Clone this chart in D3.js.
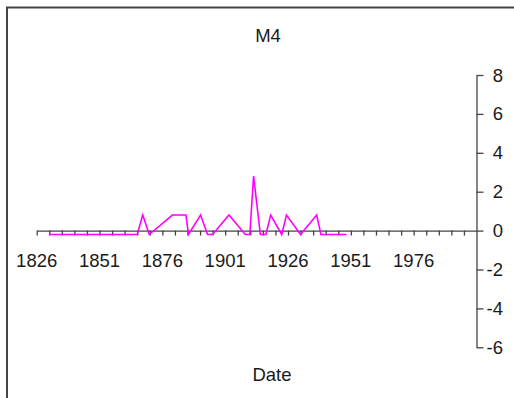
<!DOCTYPE html>
<html><head><meta charset="utf-8">
<script src="https://cdn.jsdelivr.net/npm/d3@7"></script>
<style>body{margin:0;background:#fff;} text{font-family:"Liberation Sans",Arial,sans-serif;}</style>
</head><body>
<script>
const years = [1831,1866,1868.2,1870.8,1880,1885.4,1886.4,1891.2,1894,1896,1902.5,1909,1910.8,1912.3,1915,1917.2,1919.1,1923.5,1925.4,1931,1937.4,1939.1,1949.3];
const values = [-0.2,-0.2,0.8,-0.2,0.8,0.8,-0.2,0.8,-0.2,-0.2,0.8,-0.2,-0.2,2.8,-0.2,-0.2,0.8,-0.2,0.8,-0.2,0.8,-0.2,-0.2];
const xTickLabels = [1826,1851,1876,1901,1926,1951,1976];
const yTicks = [-6,-4,-2,0,2,4,6,8];
const title = "M4", xTitle = "Date";

const W=514,H=398;
const svg=d3.select("body").append("svg").attr("width",W).attr("height",H);
svg.append("rect").attr("x",7).attr("y",7.5).attr("width",W).attr("height",H).attr("fill","none").attr("stroke","#444").attr("stroke-width",2);

const x=d3.scaleLinear().domain([1826,2001]).range([36.7,476.5]);
const y=d3.scaleLinear().domain([-6,8]).range([347.3,75]);
const axisCol="#444";
const fs=18.5;

// x axis
const xMinor=d3.range(1826,2001,5);
const gx=svg.append("g").attr("transform",`translate(0,${y(0)})`)
  .call(d3.axisBottom(x).tickValues(xMinor).tickSize(5).tickSizeOuter(0).tickFormat(""));
gx.select(".domain").attr("stroke",axisCol).attr("stroke-width",1.3);
gx.selectAll(".tick line").attr("stroke",axisCol).attr("stroke-width",1.3);
svg.append("g").selectAll("text").data(xTickLabels).join("text")
  .attr("x",d=>x(d)).attr("y",267).attr("text-anchor","middle")
  .attr("font-size",fs).attr("fill","#1a1a1a").text(d=>d);

// y axis
const gy=svg.append("g").attr("transform",`translate(${x(2001)},0)`)
  .call(d3.axisRight(y).tickValues(yTicks).tickSize(7).tickSizeOuter(0).tickFormat(""));
gy.select(".domain").attr("stroke",axisCol).attr("stroke-width",1.3);
gy.selectAll(".tick line").attr("stroke",axisCol).attr("stroke-width",1.3);
svg.append("g").selectAll("text").data(yTicks).join("text")
  .attr("x",503).attr("y",d=>y(d)+6.5).attr("text-anchor","end")
  .attr("font-size",fs).attr("fill","#1a1a1a").text(d=>d);

// line
const pts=years.map((d,i)=>[d,values[i]]);
svg.append("path").datum(pts).attr("fill","none").attr("stroke","#ff00ff").attr("stroke-width",1.6)
  .attr("d",d3.line().x(d=>x(d[0])).y(d=>y(d[1])));

svg.append("text").attr("x",268).attr("y",42).attr("text-anchor","middle").attr("font-size",fs).attr("fill","#1a1a1a").text(title);
svg.append("text").attr("x",272).attr("y",381).attr("text-anchor","middle").attr("font-size",fs).attr("fill","#1a1a1a").text(xTitle);
</script>
</body></html>
